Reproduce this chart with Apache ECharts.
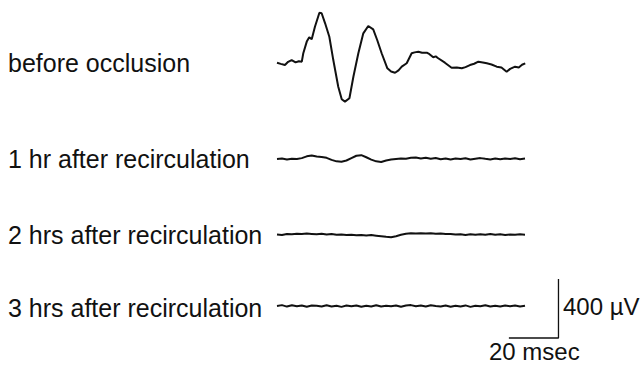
<!DOCTYPE html>
<html>
<head>
<meta charset="utf-8">
<script src="https://cdn.jsdelivr.net/npm/echarts@6.0.0/dist/echarts.min.js"></script>
<style>
  html, body { margin: 0; padding: 0; background: #fff; }
  #main { width: 643px; height: 367px; }
</style>
</head>
<body>
<div id="main"></div>
<script>
// trace labels
var traceNames = ['before occlusion', '1 hr after recirculation', '2 hrs after recirculation', '3 hrs after recirculation'];

// before occlusion: [ms, µV]
var trace1 = [[0,2],[1.5,-6],[3.2,-14],[4.5,8],[5.9,20],[7.5,4],[8.8,12],[10,9],[10.6,66],[12,145],[13,175],[14,161],
  [15.3,246],[17.1,341],[18,337],[19.4,269],[21.1,178],[22.7,20],[24.7,-161],[26.1,-246],[27.4,-262],[29.2,-239],
  [30.8,-93],[32.8,66],[34.8,201],[36.8,251],[38.8,228],[40.4,156],[42.2,66],[44.5,-36],[46,-58],[47.6,-66],[49,-50],
  [50.3,-25],[52.3,-2],[54.3,66],[55.5,72],[57,76],[58.5,70],[60.4,70],[61.5,60],[63,39],[64,45],[65,32],[67.7,2],
  [70.4,-32],[72.5,-30],[74.5,-36],[76,-28],[77.8,-14],[79.5,-5],[81.2,9],[83,4],[84.6,-2],[86.5,-10],[88.6,-25],
  [90.5,-30],[92.6,-59],[94,-40],[96,-25],[97.5,-30],[98.8,-12],[100.1,-2]];

// sample times (ms) for the flat traces
var times = [0,2,4,6,8,10,12,14,16,18,20,22,24,26,28,30,32,34,36,38,40,42,44,46,48,50,
  52,54,56,58,60,62,64,66,68,70,72,74,76,78,80,82,84,86,88,90,92,94,96,98,100];
// µV
var trace2 = [0,3,-4,2,0,6,18,24,17,14,8,-6,-16,-18,-10,6,22,26,12,-4,-16,-20,-10,-4,0,4,
  2,8,10,4,9,2,7,-2,4,-3,3,0,5,-4,2,6,1,-3,3,-2,4,0,5,-2,3];
var trace3 = [0,-3,4,2,5,3,6,4,2,5,0,3,-2,0,-3,-2,-5,-3,-6,-4,-8,-12,-16,-18,-12,-2,
  5,8,6,9,7,8,5,7,3,4,0,2,-3,1,-2,2,-1,3,-2,1,-3,0,-2,1,-1];
var trace4 = [0,6,-4,5,-2,4,-5,3,1,-4,5,-3,2,-6,3,-2,4,-5,2,-3,5,-4,1,-2,4,-5,
  3,6,-2,4,-3,5,0,-4,3,-5,2,-3,4,-6,2,-2,5,-4,1,-3,4,-2,3,-4,2];

// scale bar
var barMs = 20;
var barUv = 400;

// layout (px)
var pxPerMs = 2.48;
var pxPerUv = 0.1475;
var traceLeft = 277;
var baselines = [63, 159, 234.5, 306];
var labelY = [63.3, 158.6, 235, 307.6];
var halfH = 60;
var gridW = 300;

function pairs(t, v) {
  return t.map(function (x, i) { return [x, v[i]]; });
}

var traces = [trace1, pairs(times, trace2), pairs(times, trace3), pairs(times, trace4)];

var myChart = echarts.init(document.getElementById('main'), null, { renderer: 'svg' });

var grids = [], xAxes = [], yAxes = [], series = [];
baselines.forEach(function (b, i) {
  grids.push({ left: traceLeft, top: b - halfH, width: gridW, height: halfH * 2 });
  xAxes.push({ gridIndex: i, type: 'value', min: 0, max: gridW / pxPerMs, show: false });
  yAxes.push({ gridIndex: i, type: 'value', min: -halfH / pxPerUv, max: halfH / pxPerUv, show: false });
  series.push({
    type: 'line',
    xAxisIndex: i,
    yAxisIndex: i,
    data: traces[i],
    showSymbol: false,
    clip: false,
    silent: true,
    lineStyle: { color: '#111', width: 2 }
  });
});

// L-shaped calibration bar in the last grid
var barX = 113.5, barY = -217;
series.push({
  type: 'line',
  xAxisIndex: 3,
  yAxisIndex: 3,
  data: [[barX - barMs, barY], [barX, barY], [barX, barY + barUv]],
  showSymbol: false,
  clip: false,
  silent: true,
  lineStyle: { color: '#111', width: 1.3 }
});

var font = '"Liberation Sans", Arial, sans-serif';
var graphic = traceNames.map(function (name, i) {
  return { type: 'text', x: 8, y: labelY[i],
    style: { text: name, fill: '#111', fontSize: 25, fontFamily: font, verticalAlign: 'middle' } };
});
graphic.push({ type: 'text', x: 563, y: 306.6,
  style: { text: barUv + ' µV', fill: '#111', fontSize: 24, fontFamily: font, verticalAlign: 'middle' } });
graphic.push({ type: 'text', x: 489, y: 351.6,
  style: { text: barMs + ' msec', fill: '#111', fontSize: 24, fontFamily: font, verticalAlign: 'middle' } });

var option = {
  animation: false,
  backgroundColor: '#fff',
  grid: grids,
  xAxis: xAxes,
  yAxis: yAxes,
  graphic: graphic,
  series: series
};
myChart.setOption(option);
</script>
</body>
</html>
